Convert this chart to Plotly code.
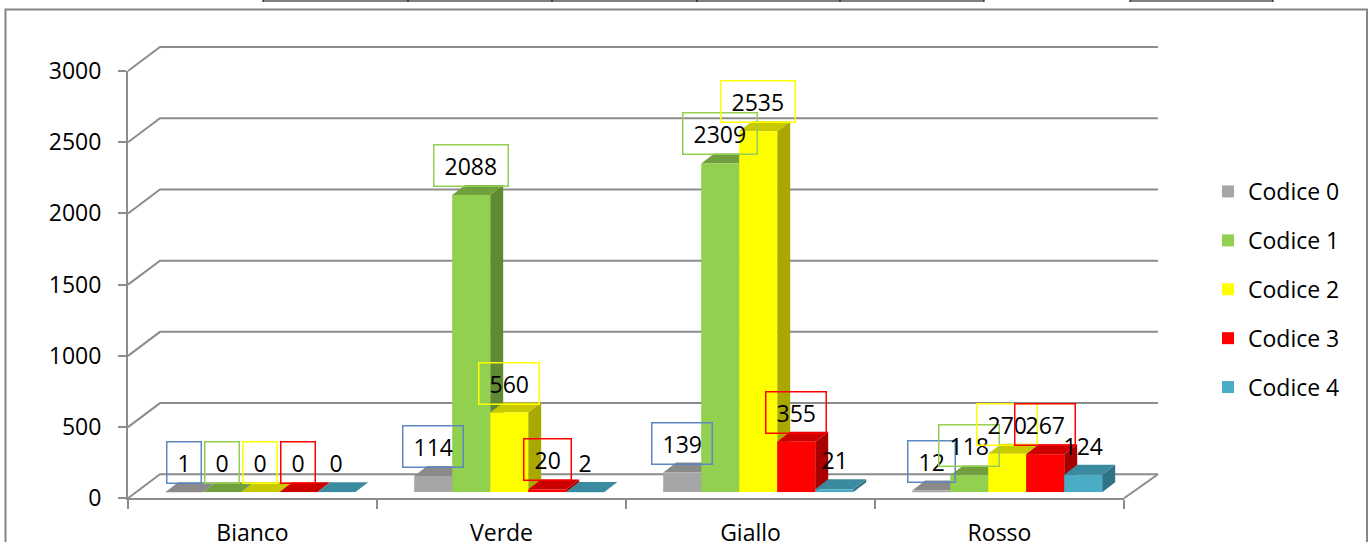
import plotly.graph_objects as go

# ---------------- data ----------------
categories = ["Bianco", "Verde", "Giallo", "Rosso"]
series_names = ["Codice 0", "Codice 1", "Codice 2", "Codice 3", "Codice 4"]
codice0 = [1, 114, 139, 12]
codice1 = [0, 2088, 2309, 118]
codice2 = [0, 560, 2535, 270]
codice3 = [0, 20, 355, 267]
codice4 = [0, 2, 21, 124]
y_ticks = [0, 500, 1000, 1500, 2000, 2500, 3000]

series_values = [codice0, codice1, codice2, codice3, codice4]

# ---------------- styles ----------------
front_colors = ["#A6A6A6", "#92D050", "#FFFF00", "#FF0000", "#4BACC6"]
top_colors = ["#8A8A8A", "#719F3E", "#C9C900", "#CC0000", "#3B8BA0"]
side_colors = ["#7A7A7A", "#5F8A33", "#A8A800", "#A80000", "#2F7284"]
label_borders = ["#5B87C5", "#92D050", "#FFFF00", "#FF0000", None]
GRID = "#8C8C8C"
FONT = "Open Sans"
FS = 23

W, H = 1371, 542


def px(x):
    return x / W


def py(y):
    return 1 - y / H


# pixel geometry of the chart
BAR_X0, BAR_X1 = 135.7, 1131.7      # bar (depth-middle) plane
BAR_YT, BAR_YB = 65.0, 492.3
AX_X0, AX_X1 = 128.0, 1124.0        # front plane
AX_YT, AX_YB = 71.0, 498.3
WALL_DX, WALL_DY = 32.0, 24.0       # floor / wall depth
YMAX = 3000.0

ncat = len(categories)
nser = len(series_values)
bar_w = (1 - 0.237) / nser
x_scale = (BAR_X1 - BAR_X0) / ncat          # px per category unit
y_scale = (BAR_YB - BAR_YT) / YMAX          # px per value unit
DX = 13.0 / x_scale                          # bar depth in data units
DY = 10.0 / y_scale

fig = go.Figure()

# front faces of bars
for j, (name, vals) in enumerate(zip(series_names, series_values)):
    fig.add_trace(go.Bar(
        x=list(range(ncat)), y=vals, name=name,
        width=bar_w, offset=(j - nser / 2) * bar_w,
        marker=dict(color=front_colors[j], line=dict(width=0)),
        legendgroup=name,
        hovertext=categories, xaxis="x", yaxis="y",
    ))

# dummy trace to create the display (front) axes
fig.add_trace(go.Scatter(x=categories, y=[None] * ncat, xaxis="x2", yaxis="y2",
                         mode="lines", showlegend=False, hoverinfo="skip"))

shapes = []


def ypx_front(v):
    return AX_YB - v * (AX_YB - AX_YT) / YMAX


# walls: gridlines (left wall slant + back wall horizontal)
for v in y_ticks:
    yf = ypx_front(v)
    shapes.append(dict(
        type="path", xref="paper", yref="paper", layer="below",
        path=f"M {px(AX_X0)},{py(yf)} L {px(AX_X0 + WALL_DX)},{py(yf - WALL_DY)} "
             f"L {px(AX_X1 + WALL_DX + 2)},{py(yf - WALL_DY)}",
        line=dict(color=GRID, width=2)))
# right floor edge
shapes.append(dict(
    type="path", xref="paper", yref="paper", layer="below",
    path=f"M {px(AX_X1)},{py(AX_YB)} L {px(AX_X1 + WALL_DX + 2)},{py(AX_YB - WALL_DY)}",
    line=dict(color=GRID, width=2)))

# 3D depth faces of bars (sides first, then tops)
side_shapes, top_shapes = [], []
for j, vals in enumerate(series_values):
    for i, v in enumerate(vals):
        left = i + (j - nser / 2) * bar_w
        right = left + bar_w
        side_shapes.append(dict(
            type="path", xref="x", yref="y", layer="below",
            path=f"M {right},0 L {right + DX},{DY} L {right + DX},{v + DY} L {right},{v} Z",
            fillcolor=side_colors[j], line=dict(width=0)))
        top_shapes.append(dict(
            type="path", xref="x", yref="y", layer="below",
            path=f"M {left},{v} L {right},{v} L {right + DX},{v + DY} L {left + DX},{v + DY} Z",
            fillcolor=top_colors[j], line=dict(width=0)))
shapes += side_shapes + top_shapes

# outer chart border
shapes.append(dict(type="rect", xref="paper", yref="paper",
                   x0=px(5.5), x1=px(1367), y0=py(9.5), y1=py(600),
                   line=dict(color="#868686", width=2)))

# remnants of a table above the chart
shapes.append(dict(type="line", xref="paper", yref="paper",
                   x0=px(263), x1=px(984), y0=py(1), y1=py(1),
                   line=dict(color="black", width=1)))
shapes.append(dict(type="line", xref="paper", yref="paper",
                   x0=px(1130), x1=px(1273), y0=py(1), y1=py(1),
                   line=dict(color="black", width=1)))
for xv in [263, 408, 552, 697, 840, 984, 1130, 1273]:
    shapes.append(dict(type="line", xref="paper", yref="paper",
                       x0=px(xv), x1=px(xv), y0=py(-2), y1=py(2),
                       line=dict(color="black", width=1)))

# data labels
annotations = []
for j, vals in enumerate(series_values):
    for i, v in enumerate(vals):
        xc = i + (j - nser / 2 + 0.5) * bar_w
        border = label_borders[j]
        annotations.append(dict(
            x=xc, y=v, xref="x", yref="y", xanchor="center", yanchor="bottom",
            yshift=8, text="\u00a0" + str(v) + "\u00a0", showarrow=False,
            font=dict(family=FONT, size=FS, color="black"),
            bordercolor=border if border else "rgba(0,0,0,0)",
            borderwidth=1.5, borderpad=4, bgcolor="rgba(0,0,0,0)"))

fig.update_layout(
    width=W, height=H, autosize=False,
    margin=dict(l=0, r=0, t=0, b=0, pad=0, autoexpand=False),
    paper_bgcolor="white", plot_bgcolor="rgba(0,0,0,0)",
    barmode="overlay",
    font=dict(family=FONT, size=FS, color="black"),
    showlegend=True,
    legend=dict(x=px(1208), y=py(170), xanchor="left", yanchor="top",
                font=dict(family=FONT, size=FS, color="black"),
                tracegroupgap=16, itemwidth=30, bgcolor="rgba(0,0,0,0)"),
    xaxis=dict(domain=[px(BAR_X0), px(BAR_X1)], range=[-0.5, ncat - 0.5],
               visible=False, fixedrange=True, automargin=False),
    yaxis=dict(domain=[py(BAR_YB), py(BAR_YT)], range=[0, YMAX],
               visible=False, fixedrange=True, automargin=False),
    xaxis2=dict(domain=[px(AX_X0), px(AX_X1)], anchor="y2", type="category",
                categoryorder="array", categoryarray=categories,
                range=[-0.5, ncat - 0.5], showgrid=False, zeroline=False,
                showline=True, linecolor=GRID, linewidth=2, automargin=False,
                ticks="outside", tickson="boundaries", ticklen=9, tickcolor=GRID,
                tickwidth=2, ticklabelstandoff=13,
                tickfont=dict(family=FONT, size=FS, color="black")),
    yaxis2=dict(domain=[py(AX_YB), py(AX_YT)], anchor="x2", range=[0, YMAX],
                tickvals=y_ticks, showgrid=False, zeroline=False,
                showline=True, linecolor=GRID, linewidth=2, automargin=False,
                ticks="outside", ticklen=8, tickcolor=GRID, tickwidth=2,
                ticklabelstandoff=12,
                tickfont=dict(family=FONT, size=FS, color="black")),
    shapes=shapes, annotations=annotations,
)

fig.write_html("out.html", config={"displayModeBar": False},
               post_script="document.body.style.margin='0';document.body.style.overflow='hidden';")
